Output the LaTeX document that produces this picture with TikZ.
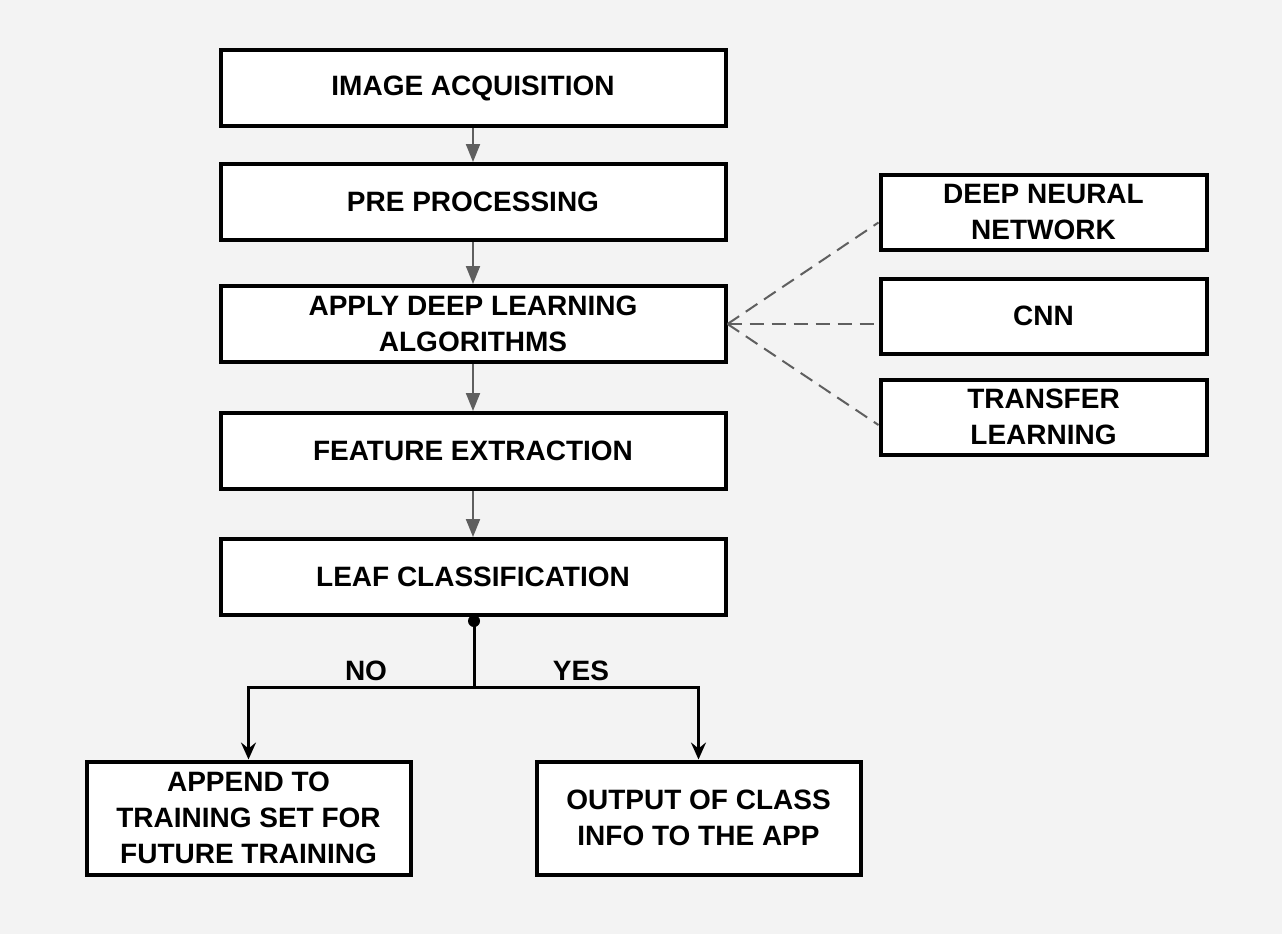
\documentclass[tikz,border=0pt]{standalone}
\usepackage{fontspec}
\setmainfont{Liberation Sans}
\usepackage{tikz}
\usetikzlibrary{arrows.meta}
\definecolor{pagebg}{HTML}{F3F3F3}
\definecolor{flowgray}{HTML}{5F5F5F}
\tikzset{
  every node/.style={font=\fontsize{28}{36}\selectfont\bfseries},
  stagebox/.style={draw,fill=white,line width=4pt,minimum width=505pt,minimum height=76pt,align=center},
  modelbox/.style={draw,fill=white,line width=4pt,minimum width=326pt,minimum height=75pt,align=center},
  leafbox/.style={draw,fill=white,line width=4pt,minimum width=324pt,minimum height=113pt,align=center},
  flow/.style={draw=flowgray,line width=2pt,-{Triangle[length=18pt,width=14pt]},fill=flowgray},
  link/.style={draw=flowgray,line width=2pt,dash pattern=on 14pt off 8pt},
  branch/.style={draw,line width=3pt},
}
\begin{document}
\begin{tikzpicture}[x=1pt,y=-1pt]
\fill[pagebg] (0,0) rectangle (1282,934);
\useasboundingbox (0,0) rectangle (1282,934);
% main stages
\node[stagebox] (acq) at (473,88) {IMAGE ACQUISITION};
\node[stagebox] (pre) at (473,202) {PRE PROCESSING};
\node[stagebox] (dl) at (473,324) {APPLY DEEP LEARNING\\ALGORITHMS};
\node[stagebox] (feat) at (473,451) {FEATURE EXTRACTION};
\node[stagebox] (leaf) at (473,577) {LEAF CLASSIFICATION};
% models
\node[modelbox] (dnn) at (1043.5,212.5) {DEEP NEURAL\\NETWORK};
\node[modelbox] (cnn) at (1043.5,316) {CNN};
\node[modelbox] (tl) at (1043.5,417) {TRANSFER\\LEARNING};
% outcomes
\node[leafbox] (app) at (248.5,818) {APPEND TO\\TRAINING SET FOR\\FUTURE TRAINING};
\node[leafbox] (out) at (698.5,818) {OUTPUT OF CLASS\\INFO TO THE APP};
\foreach \a/\b in {acq/pre,pre/dl,dl/feat,feat/leaf}
  \draw[flow] (\a.south) -- (\b.north);
\draw[link] (dl.east) -- ([yshift=-10pt]dnn.west);
\draw[link] (dl.east) -- ([yshift=-8pt]cnn.west);
\draw[link] (dl.east) -- ([yshift=-8pt]tl.west);
% decision
\coordinate (dot) at (474,621);
\coordinate (fork) at (474,687);
\fill (dot) circle[radius=6pt];
\draw[branch] (dot) -- (fork);
\draw[branch,-{Stealth[length=17pt,width=15pt,inset=6pt]}] (fork) -| (app.north);
\draw[branch,-{Stealth[length=17pt,width=15pt,inset=6pt]}] (fork) -| (out.north);
\node (no) at (366,671) {NO};
\node (yes) at (581,671) {YES};
\end{tikzpicture}
\end{document}
